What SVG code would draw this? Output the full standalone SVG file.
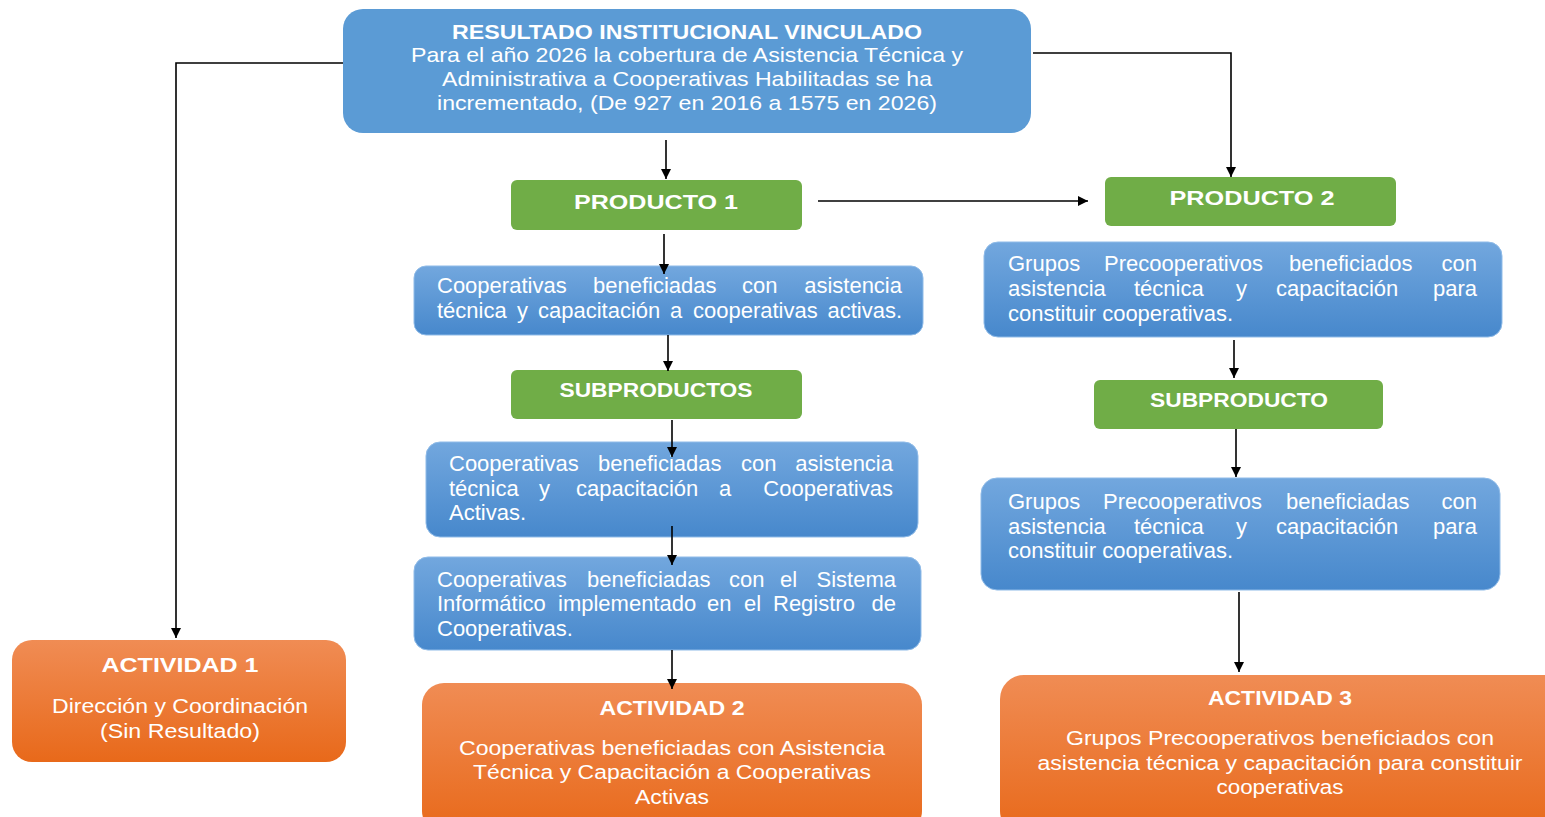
<svg xmlns="http://www.w3.org/2000/svg" width="1545" height="817" viewBox="0 0 1545 817">
<defs>
<linearGradient id="gBlue" x1="0" y1="0" x2="0" y2="1">
<stop offset="0" stop-color="#72a7de"/>
<stop offset="1" stop-color="#4788cc"/>
</linearGradient>
<linearGradient id="gOrange" x1="0" y1="0" x2="0" y2="1">
<stop offset="0" stop-color="#f08c54"/>
<stop offset="1" stop-color="#e8691a"/>
</linearGradient>
<marker id="arr" viewBox="0 0 10 10" refX="10" refY="5" markerWidth="10" markerHeight="10" markerUnits="userSpaceOnUse" orient="auto">
<path d="M0,0 L10,5 L0,10 z" fill="#000"/>
</marker>
</defs>
<style>
.top{fill:#5b9bd5;}
.blue{fill:url(#gBlue);stroke:#8fbbe8;stroke-width:1;}
.green{fill:#70ad47;}
.orange{fill:url(#gOrange);}
text{font-family:"Liberation Sans",Arial,sans-serif;fill:#fff;}
.b{font-weight:bold;}
.t20{font-size:20px;}
.t21{font-size:21px;}
.t22{font-size:22px;}
.c{text-anchor:middle;}
.e{text-anchor:end;}
.conn{fill:none;stroke:#000;stroke-width:1.6;marker-end:url(#arr);}
</style>
<rect width="1545" height="817" fill="#fff"/>

<g id="resultado">
<rect class="top" x="343" y="9" width="688" height="124" rx="20"/>
<text class="b t20 c" x="687" y="39" textLength="470" lengthAdjust="spacingAndGlyphs">RESULTADO INSTITUCIONAL VINCULADO</text>
<text class="t21 c" x="687" y="62" textLength="552" lengthAdjust="spacingAndGlyphs">Para el año 2026 la cobertura de Asistencia Técnica y</text>
<text class="t21 c" x="687" y="86" textLength="490" lengthAdjust="spacingAndGlyphs">Administrativa a Cooperativas Habilitadas se ha</text>
<text class="t21 c" x="687" y="110" textLength="500" lengthAdjust="spacingAndGlyphs">incrementado, (De 927 en 2016 a 1575 en 2026)</text>
</g>

<g id="producto1">
<rect class="green" x="511" y="180" width="291" height="50" rx="6"/>
<text class="b t21 c" x="656" y="209" textLength="164" lengthAdjust="spacingAndGlyphs">PRODUCTO 1</text>
</g>

<g id="producto2">
<rect class="green" x="1105" y="177" width="291" height="49" rx="6"/>
<text class="b t21 c" x="1252" y="205" textLength="165" lengthAdjust="spacingAndGlyphs">PRODUCTO 2</text>
</g>

<g id="desc1">
<rect class="blue" x="414" y="266" width="509" height="69" rx="12"/>
<text class="t22" y="293"><tspan x="437">Cooperativas</tspan><tspan x="593">beneficiadas</tspan><tspan x="742">con</tspan><tspan x="902" text-anchor="end">asistencia</tspan></text>
<text class="t22" y="318"><tspan x="437">técnica</tspan><tspan x="517">y</tspan><tspan x="538">capacitación</tspan><tspan x="670">a</tspan><tspan x="693">cooperativas</tspan><tspan x="902" text-anchor="end">activas.</tspan></text>
</g>

<g id="desc2">
<rect class="blue" x="984" y="242" width="518" height="95" rx="14"/>
<text class="t22" y="271"><tspan x="1008">Grupos</tspan><tspan x="1104">Precooperativos</tspan><tspan x="1289">beneficiados</tspan><tspan x="1477" text-anchor="end">con</tspan></text>
<text class="t22" y="296"><tspan x="1008">asistencia</tspan><tspan x="1134">técnica</tspan><tspan x="1236">y</tspan><tspan x="1276">capacitación</tspan><tspan x="1477" text-anchor="end">para</tspan></text>
<text class="t22" x="1008" y="321">constituir cooperativas.</text>
</g>

<g id="subproductos">
<rect class="green" x="511" y="370" width="291" height="49" rx="6"/>
<text class="b t20 c" x="656" y="397" textLength="193" lengthAdjust="spacingAndGlyphs">SUBPRODUCTOS</text>
</g>

<g id="subproducto">
<rect class="green" x="1094" y="380" width="289" height="49" rx="6"/>
<text class="b t20 c" x="1239" y="407" textLength="178" lengthAdjust="spacingAndGlyphs">SUBPRODUCTO</text>
</g>

<g id="sub1">
<rect class="blue" x="426" y="442" width="492" height="95" rx="14"/>
<text class="t22" y="471"><tspan x="449">Cooperativas</tspan><tspan x="598">beneficiadas</tspan><tspan x="741">con</tspan><tspan x="893" text-anchor="end">asistencia</tspan></text>
<text class="t22" y="496"><tspan x="449">técnica</tspan><tspan x="539">y</tspan><tspan x="576">capacitación</tspan><tspan x="719">a</tspan><tspan x="893" text-anchor="end">Cooperativas</tspan></text>
<text class="t22" x="449" y="520">Activas.</text>
</g>

<g id="sub2">
<rect class="blue" x="414" y="557" width="507" height="93" rx="14"/>
<text class="t22" y="587"><tspan x="437">Cooperativas</tspan><tspan x="587">beneficiadas</tspan><tspan x="729">con</tspan><tspan x="780">el</tspan><tspan x="896" text-anchor="end">Sistema</tspan></text>
<text class="t22" y="611"><tspan x="437">Informático</tspan><tspan x="558">implementado</tspan><tspan x="707">en</tspan><tspan x="744">el</tspan><tspan x="773">Registro</tspan><tspan x="896" text-anchor="end">de</tspan></text>
<text class="t22" x="437" y="636">Cooperativas.</text>
</g>

<g id="subp2">
<rect class="blue" x="981" y="478" width="519" height="112" rx="16"/>
<text class="t22" y="509"><tspan x="1008">Grupos</tspan><tspan x="1103">Precooperativos</tspan><tspan x="1286">beneficiadas</tspan><tspan x="1477" text-anchor="end">con</tspan></text>
<text class="t22" y="534"><tspan x="1008">asistencia</tspan><tspan x="1134">técnica</tspan><tspan x="1236">y</tspan><tspan x="1276">capacitación</tspan><tspan x="1477" text-anchor="end">para</tspan></text>
<text class="t22" x="1008" y="558">constituir cooperativas.</text>
</g>

<g id="actividad1">
<rect class="orange" x="12" y="640" width="334" height="122" rx="20"/>
<text class="b t21 c" x="180" y="672" textLength="157" lengthAdjust="spacingAndGlyphs">ACTIVIDAD 1</text>
<text class="t20 c" x="180" y="713" textLength="256" lengthAdjust="spacingAndGlyphs">Dirección y Coordinación</text>
<text class="t20 c" x="180" y="738" textLength="160" lengthAdjust="spacingAndGlyphs">(Sin Resultado)</text>
</g>

<g id="actividad2">
<rect class="orange" x="422" y="683" width="500" height="150" rx="22"/>
<text class="b t21 c" x="672" y="715" textLength="145" lengthAdjust="spacingAndGlyphs">ACTIVIDAD 2</text>
<text class="t20 c" x="672" y="755" textLength="426" lengthAdjust="spacingAndGlyphs">Cooperativas beneficiadas con Asistencia</text>
<text class="t20 c" x="672" y="779" textLength="398" lengthAdjust="spacingAndGlyphs">Técnica y Capacitación a Cooperativas</text>
<text class="t20 c" x="672" y="804" textLength="74" lengthAdjust="spacingAndGlyphs">Activas</text>
</g>

<g id="actividad3">
<rect class="orange" x="1000" y="675" width="570" height="160" rx="24"/>
<text class="b t21 c" x="1280" y="705" textLength="144" lengthAdjust="spacingAndGlyphs">ACTIVIDAD 3</text>
<text class="t20 c" x="1280" y="745" textLength="428" lengthAdjust="spacingAndGlyphs">Grupos Precooperativos beneficiados con</text>
<text class="t20 c" x="1280" y="770" textLength="485" lengthAdjust="spacingAndGlyphs">asistencia técnica y capacitación para constituir</text>
<text class="t20 c" x="1280" y="794" textLength="127" lengthAdjust="spacingAndGlyphs">cooperativas</text>
</g>

<g id="connectors">
<path class="conn" d="M343,63 H176 V638"/>
<path class="conn" d="M1033,53 H1231 V177"/>
<path class="conn" d="M666,140 V179"/>
<path class="conn" d="M818,201 H1088"/>
<path class="conn" d="M664,234 V274"/>
<path class="conn" d="M668,335 V371"/>
<path class="conn" d="M672,420 V457"/>
<path class="conn" d="M672,526 V565"/>
<path class="conn" d="M672,650 V689"/>
<path class="conn" d="M1234,340 V378"/>
<path class="conn" d="M1236,429 V477"/>
<path class="conn" d="M1239,592 V672"/>
</g>
</svg>
